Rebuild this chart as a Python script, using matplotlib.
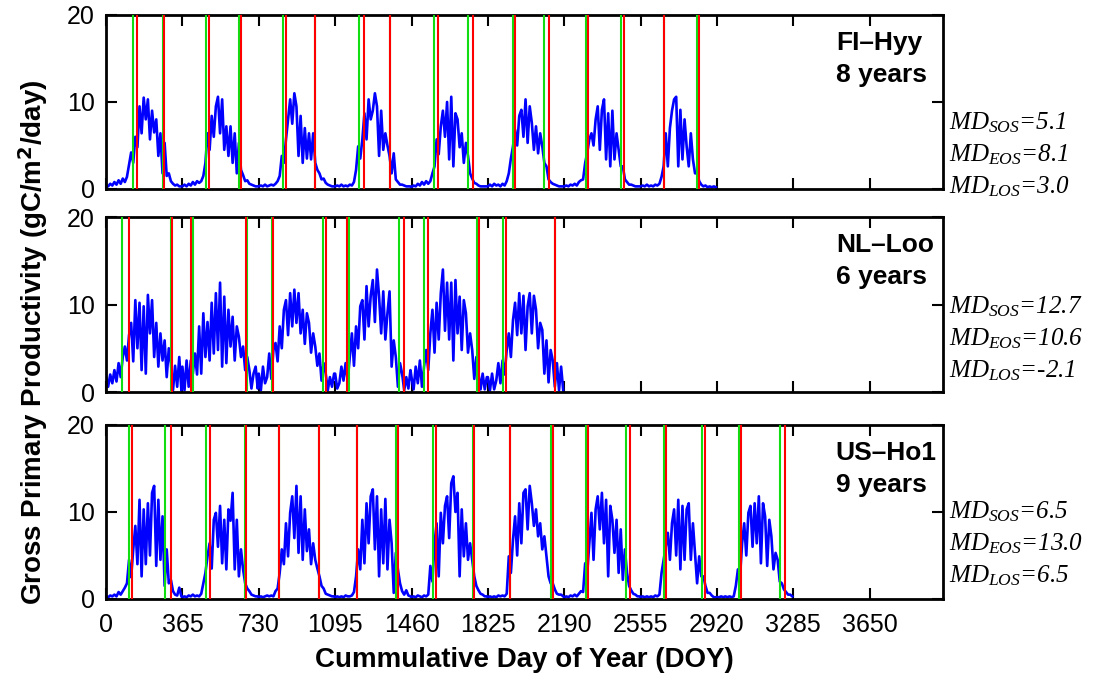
import numpy as np
import matplotlib.pyplot as plt

plt.rcParams['font.family'] = ['Liberation Sans', 'DejaVu Sans']
plt.rcParams['mathtext.fontset'] = 'custom'
plt.rcParams['mathtext.it'] = 'Liberation Serif:italic'
plt.rcParams['mathtext.rm'] = 'Liberation Serif:italic'

hyy_gpp = [
    [0.4, 0.3, 0.6, 0.4, 0.8, 0.5, 1.0, 0.6, 1.2, 0.8, 1.4, 2.8, 4.2, 3.0, 6.0, 4.8, 9.5, 6.4, 10.5, 8.0, 10.3, 5.7, 9.0, 6.5, 8.0, 3.8, 6.4, 1.8, 5.3, 1.5, 1.8, 0.9, 0.6, 0.4, 0.5, 0.3, 0.3],
    [0.3, 0.5, 0.3, 0.6, 0.4, 0.8, 0.5, 0.9, 0.7, 0.9, 1.5, 3.0, 6.4, 4.5, 8.4, 6.0, 9.5, 10.6, 6.4, 10.3, 4.5, 7.2, 3.8, 7.2, 3.0, 6.4, 1.8, 5.3, 2.2, 1.6, 0.9, 1.0, 0.6, 0.5, 0.4, 0.3, 0.3],
    [0.3, 0.4, 0.3, 0.5, 0.3, 0.4, 0.5, 0.4, 0.6, 0.9, 1.5, 3.8, 3.0, 5.7, 8.0, 10.3, 7.5, 11.0, 9.5, 3.8, 8.4, 3.0, 7.0, 3.5, 6.4, 3.4, 6.4, 3.0, 2.2, 1.8, 1.1, 1.2, 0.7, 0.5, 0.4, 0.3, 0.3],
    [0.3, 0.4, 0.3, 0.5, 0.3, 0.4, 0.3, 0.5, 0.4, 0.8, 2.2, 4.9, 3.5, 5.7, 8.7, 5.7, 10.3, 8.0, 9.0, 11.0, 9.5, 3.8, 9.0, 4.5, 6.4, 5.0, 3.8, 1.8, 4.1, 1.1, 0.8, 0.5, 0.5, 0.4, 0.3, 0.3, 0.3],
    [0.2, 0.4, 0.3, 0.6, 0.4, 0.8, 0.5, 0.9, 0.6, 0.9, 1.8, 2.6, 5.7, 4.0, 7.2, 9.0, 6.0, 10.0, 3.4, 10.6, 2.6, 8.7, 8.0, 4.8, 6.4, 3.0, 5.3, 3.8, 1.8, 1.2, 0.7, 0.6, 0.4, 0.3, 0.3, 0.3, 0.3],
    [0.3, 0.5, 0.3, 0.6, 0.4, 0.5, 0.3, 0.6, 0.4, 0.9, 1.8, 3.5, 4.9, 6.8, 5.0, 8.4, 9.1, 6.0, 10.3, 5.3, 9.5, 7.6, 4.5, 7.2, 4.1, 6.4, 4.9, 3.0, 2.6, 1.1, 0.8, 0.6, 0.5, 0.4, 0.3, 0.3, 0.3],
    [0.3, 0.4, 0.3, 0.5, 0.4, 0.6, 0.4, 0.8, 1.0, 1.1, 3.0, 4.2, 5.7, 6.4, 5.0, 8.0, 9.5, 4.5, 9.1, 10.3, 3.4, 8.7, 2.6, 9.0, 3.4, 6.4, 4.5, 2.6, 2.6, 1.1, 0.8, 0.5, 0.5, 0.4, 0.3, 0.3, 0.3],
    [0.3, 0.4, 0.3, 0.5, 0.3, 0.4, 0.3, 0.5, 0.4, 0.6, 1.4, 2.6, 6.4, 2.6, 7.0, 9.0, 10.3, 10.6, 2.6, 9.1, 3.4, 8.0, 4.9, 2.6, 6.4, 3.4, 1.8, 1.8, 0.9, 0.5, 0.3, 0.4, 0.2, 0.3, 0.2, 0.3, 0.2],
]
loo_gpp = [
    [1.7, 0.6, 2.0, 1.0, 2.5, 1.2, 3.3, 1.7, 4.0, 5.2, 3.6, 6.5, 7.9, 3.5, 10.5, 5.0, 10.2, 2.5, 9.8, 2.1, 11.1, 6.7, 10.5, 4.0, 7.9, 2.9, 6.7, 3.6, 5.9, 1.7, 5.0, 3.3, 0.2, 3.0, 0.6, 4.0, 0.2],
    [2.9, 0.2, 3.6, 0.6, 3.6, 2.1, 4.4, 2.0, 7.5, 2.1, 9.0, 4.0, 8.0, 3.6, 10.2, 4.4, 11.3, 4.8, 12.5, 2.9, 10.9, 3.3, 9.4, 5.2, 8.6, 3.6, 7.5, 6.3, 4.0, 5.2, 2.5, 4.0, 2.5, 0.4, 2.1, 2.9, 0.4],
    [2.1, 0.2, 2.9, 1.0, 1.7, 4.4, 1.5, 4.8, 5.6, 3.5, 7.5, 5.0, 9.4, 10.5, 6.5, 11.3, 7.5, 11.7, 7.9, 11.3, 6.7, 9.4, 5.5, 9.0, 7.9, 4.5, 6.7, 5.2, 3.0, 4.4, 1.3, 3.3, 2.1, 0.2, 1.7, 0.6, 2.1],
    [2.1, 0.4, 1.0, 2.9, 1.3, 3.3, 1.3, 4.0, 6.7, 3.0, 7.5, 5.0, 9.8, 10.5, 6.0, 12.1, 7.5, 11.0, 12.8, 8.0, 14.0, 10.9, 6.7, 11.5, 6.0, 9.0, 11.5, 2.9, 5.9, 4.0, 0.6, 3.3, 2.1, 0.2, 1.7, 0.4, 2.5],
    [1.7, 0.3, 2.9, 1.0, 3.6, 0.6, 2.9, 4.8, 2.5, 6.7, 9.4, 4.5, 10.2, 6.0, 11.3, 14.0, 7.0, 12.5, 6.0, 12.5, 3.6, 12.8, 6.7, 10.9, 4.8, 10.5, 9.0, 4.5, 6.7, 4.8, 1.5, 4.0, 2.1, 0.3, 2.1, 0.3, 1.7],
    [1.7, 0.2, 2.1, 0.3, 1.3, 3.3, 1.0, 3.6, 2.0, 4.8, 6.7, 4.0, 8.2, 10.2, 6.5, 11.3, 6.7, 11.0, 4.8, 9.8, 11.3, 6.7, 11.0, 9.4, 5.0, 7.9, 7.1, 2.1, 5.9, 1.1, 4.8, 3.6, 0.6, 3.3, 0.2, 2.9, 0.2],
]
ho1_gpp = [
    [0.3, 0.2, 0.4, 0.3, 0.5, 0.3, 0.8, 0.5, 0.9, 1.3, 1.8, 4.5, 2.5, 5.7, 8.4, 4.0, 11.4, 2.6, 10.3, 4.0, 11.0, 5.0, 12.2, 13.0, 3.8, 11.4, 4.5, 9.5, 1.5, 5.7, 1.8, 2.2, 0.9, 0.5, 0.4, 1.3, 0.3],
    [0.2, 0.3, 0.2, 0.4, 0.3, 0.5, 0.3, 0.4, 0.3, 0.6, 1.8, 3.0, 4.9, 6.4, 3.5, 9.1, 9.9, 6.0, 10.7, 4.1, 9.1, 3.4, 10.3, 9.0, 12.2, 3.4, 9.1, 2.6, 5.7, 3.4, 1.8, 1.2, 0.9, 0.5, 0.4, 0.3, 0.3],
    [0.2, 0.3, 0.2, 0.3, 0.4, 0.3, 0.4, 0.3, 0.9, 1.2, 3.0, 5.7, 4.0, 8.7, 4.9, 9.9, 11.8, 7.0, 13.0, 5.3, 11.8, 4.5, 10.3, 5.5, 8.0, 4.0, 6.4, 4.5, 3.5, 2.6, 1.5, 1.2, 0.6, 0.5, 0.4, 0.3, 0.3],
    [0.2, 0.3, 0.2, 0.3, 0.2, 0.4, 0.3, 0.3, 0.4, 0.8, 2.6, 5.7, 3.4, 9.1, 4.1, 11.0, 6.4, 11.8, 12.6, 5.7, 11.8, 2.6, 10.3, 4.1, 11.5, 3.4, 9.1, 6.4, 0.7, 5.3, 3.4, 1.8, 0.9, 0.5, 1.0, 0.4, 0.3],
    [0.2, 0.3, 0.2, 0.4, 0.3, 0.2, 0.4, 0.3, 0.5, 3.8, 2.0, 6.4, 8.7, 2.6, 9.9, 6.4, 10.7, 11.8, 7.0, 13.3, 14.1, 10.0, 12.2, 2.6, 10.3, 4.9, 8.7, 4.5, 6.4, 4.5, 2.6, 1.5, 1.0, 0.6, 0.5, 0.3, 0.3],
    [0.2, 0.3, 0.2, 0.3, 0.2, 0.4, 0.3, 0.4, 0.3, 0.6, 4.9, 3.0, 6.8, 9.5, 5.0, 11.0, 6.4, 12.2, 12.6, 8.0, 13.0, 11.0, 8.4, 10.3, 7.2, 8.7, 5.7, 7.2, 4.9, 2.6, 1.8, 1.8, 1.1, 0.6, 0.5, 0.5, 0.3],
    [0.2, 0.3, 0.2, 0.4, 0.3, 0.5, 0.3, 0.6, 0.9, 0.8, 4.1, 3.0, 6.4, 9.9, 4.5, 10.3, 11.8, 8.0, 12.2, 6.4, 11.4, 2.6, 10.7, 9.1, 5.3, 9.1, 3.0, 8.0, 2.2, 5.7, 3.0, 1.5, 1.0, 0.6, 0.5, 0.3, 0.3],
    [0.2, 0.3, 0.2, 0.3, 0.2, 0.3, 0.2, 0.4, 0.3, 0.5, 3.0, 4.5, 6.0, 7.6, 4.5, 8.7, 10.3, 5.0, 11.4, 3.4, 10.7, 4.5, 10.3, 11.0, 4.5, 8.7, 5.3, 1.8, 4.9, 2.6, 2.6, 1.5, 0.7, 0.7, 0.4, 0.2, 0.2],
    [0.2, 0.2, 0.3, 0.2, 0.3, 0.2, 0.3, 0.2, 0.3, 1.5, 3.4, 2.5, 6.4, 8.7, 5.0, 9.9, 10.7, 6.0, 11.0, 6.4, 11.8, 4.1, 11.0, 9.5, 3.8, 9.1, 7.2, 3.4, 5.3, 4.5, 2.0, 1.8, 1.1, 0.8, 0.5, 0.5, 0.3],
]

# start (green) and end (red) of season lines, cumulative day
hyy_sos = [131, 271, 479, 637, 847, 1001, 1211, 1357, 1569, 1729, 1944, 2092, 2295, 2459, 2669, 2823]
hyy_eos = [146, 279, 494, 646, 859, 1001, 1231, 1359, 1588, 1753, 1954, 2116, 2305, 2474, 2669, 2832]
loo_sos = [76, 310, 414, 675, 793, 1038, 1163, 1400, 1521, 1771, 1899, 2145]
loo_eos = [109, 314, 408, 667, 797, 1052, 1154, 1422, 1540, 1783, 1912, 2147]
ho1_sos = [112, 281, 478, 662, 829, 1020, 1198, 1385, 1564, 1755, 1933, 2128, 2294, 2483, 2668, 2847, 3025, 3219]
ho1_eos = [123, 312, 495, 667, 829, 1020, 1198, 1394, 1577, 1761, 1933, 2138, 2303, 2502, 2674, 2865, 3035, 3243]

site_names = ['FI\u2013Hyy', 'NL\u2013Loo', 'US\u2013Ho1']
site_years = ['8 years', '6 years', '9 years']
md_sos = ['5.1', '12.7', '6.5']
md_eos = ['8.1', '10.6', '13.0']
md_los = ['3.0', '-2.1', '6.5']

gpp_all = [hyy_gpp, loo_gpp, ho1_gpp]
sos_all = [hyy_sos, loo_sos, ho1_sos]
eos_all = [hyy_eos, loo_eos, ho1_eos]

fig = plt.figure(figsize=(11.15, 6.84), dpi=100)
boxes = [[0.0951, 0.7237, 0.7506, 0.2544],
         [0.0951, 0.4269, 0.7506, 0.2558],
         [0.0951, 0.1243, 0.7506, 0.2544]]
md_top = [0.38, 0.487, 0.50]  # axes-y of the first MD line per panel
xticks = np.arange(0, 3651, 365)

for i in range(3):
    ax = fig.add_axes(boxes[i])
    days = np.concatenate([365 * k + np.arange(0, 361, 10) for k in range(len(gpp_all[i]))])
    vals = np.concatenate(gpp_all[i])
    ax.plot(days, vals, color='#0000ff', lw=1.9, zorder=2)
    for d in sos_all[i]:
        ax.axvline(d, color='#11dd11', lw=1.5, zorder=3)
    for d in eos_all[i]:
        ax.axvline(d, color='#ff0000', lw=1.5, zorder=4)

    ax.set_xlim(0, 4000)
    ax.set_ylim(0, 20)
    ax.set_yticks([0, 10, 20])
    ax.set_xticks(xticks)
    ax.tick_params(direction='in', length=8, width=1.5, top=True, right=True,
                   labelsize=18)
    ax.tick_params(axis='x', pad=10)
    ax.tick_params(axis='y', pad=8)
    if i < 2:
        ax.set_xticklabels([])
    for sp in ax.spines.values():
        sp.set_linewidth(2)

    ax.text(0.872, 0.84, site_names[i], transform=ax.transAxes, fontsize=19,
            fontweight='bold', va='center', ha='left')
    ax.text(0.872, 0.655, site_years[i], transform=ax.transAxes, fontsize=19,
            fontweight='bold', va='center', ha='left')

    mdtxt = [r'$MD_{SOS}$=' + md_sos[i], r'$MD_{EOS}$=' + md_eos[i], r'$MD_{LOS}$=' + md_los[i]]
    for j, t in enumerate(mdtxt):
        ax.text(1.007, md_top[i] - j * 0.182, t, transform=ax.transAxes, fontsize=18,
                family='Liberation Serif', style='italic', va='center', ha='left')

    if i == 2:
        ax.set_xlabel('Cummulative Day of Year (DOY)', fontsize=20, fontweight='bold', labelpad=7)

fig.text(0.03, 0.5, 'Gross Primary Productivity (gC/m$^\\mathbf{2}$/day)', rotation=90,
         fontsize=20, fontweight='bold', va='center', ha='center')

fig.savefig('out.png', dpi=100)
